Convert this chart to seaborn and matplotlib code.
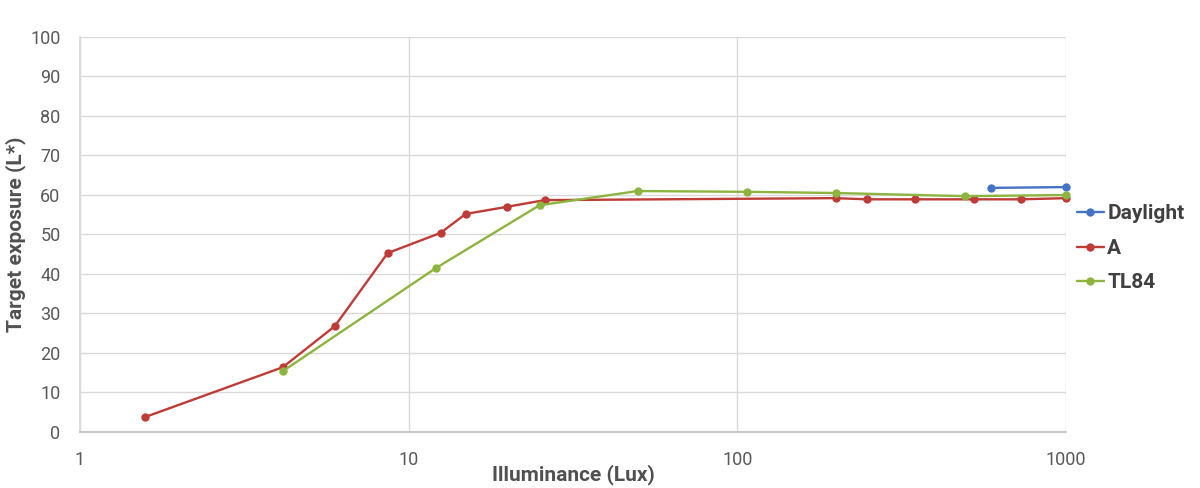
import seaborn as sns
import pandas as pd
import matplotlib.pyplot as plt
from matplotlib.ticker import FixedLocator, FixedFormatter, NullLocator

# data
daylight_lux = [592, 1000]
daylight_l = [61.8, 62.0]

a_lux = [1.58, 4.14, 5.96, 8.63, 12.5, 14.9, 19.9, 25.9, 199, 248, 347, 525, 730, 1000]
a_l = [3.8, 16.4, 26.8, 45.3, 50.4, 55.2, 57.0, 58.7, 59.2, 58.9, 58.9, 58.9, 58.9, 59.2]

tl84_lux = [4.14, 12.1, 25.0, 49.7, 107, 199, 493, 1000]
tl84_l = [15.4, 41.5, 57.4, 61.0, 60.8, 60.5, 59.7, 60.0]

series = ["Daylight", "A", "TL84"]
colors = ["#4472C4", "#BE3B36", "#8DB43E"]

df = pd.concat([
    pd.DataFrame({"lux": daylight_lux, "L": daylight_l, "light": "Daylight"}),
    pd.DataFrame({"lux": a_lux, "L": a_l, "light": "A"}),
    pd.DataFrame({"lux": tl84_lux, "L": tl84_l, "light": "TL84"}),
])

sns.set_theme(style="whitegrid")
plt.rcParams['font.family'] = ['Roboto', 'DejaVu Sans']

fig = plt.figure(figsize=(12, 4.88), dpi=100)
ax = fig.add_axes([0.0667, 0.1148, 0.8217, 0.8094])

sns.lineplot(data=df, x="lux", y="L", hue="light", hue_order=series,
             palette=colors, marker="o", markersize=6, markeredgewidth=0,
             linewidth=1.7, sort=False, ax=ax, clip_on=False)

ax.set_xscale("log")
ax.set_xlim(1, 1000)
ax.set_ylim(0, 100)
ax.xaxis.set_major_locator(FixedLocator([1, 10, 100, 1000]))
ax.xaxis.set_major_formatter(FixedFormatter(["1", "10", "100", "1000"]))
ax.xaxis.set_minor_locator(NullLocator())
ax.set_yticks(range(0, 101, 10))

ax.grid(True, color="#D9D9D9", linewidth=1)
for s in ["top", "right"]:
    ax.spines[s].set_visible(False)
ax.spines["left"].set_color("#D9D9D9")
ax.spines["bottom"].set_color("#BFBFBF")
ax.spines["bottom"].set_linewidth(1.2)

ax.tick_params(axis="both", labelsize=13, colors="#595959", length=0)
ax.tick_params(axis="x", pad=14)
ax.tick_params(axis="y", pad=14)

ax.set_xlabel("Illuminance (Lux)", fontsize=15, fontweight="bold", color="#505050", labelpad=-4)
ax.set_ylabel("Target exposure (L*)", fontsize=15, fontweight="bold", color="#505050", labelpad=3)

leg = ax.legend(loc="center left", bbox_to_anchor=(0.992, 0.465), frameon=False,
                fontsize=15, handlelength=1.3, handletextpad=0.15, labelspacing=0.75)
for t in leg.get_texts():
    t.set_fontweight("bold")
    t.set_color("#404040")

fig.savefig("out.png", dpi=100)
